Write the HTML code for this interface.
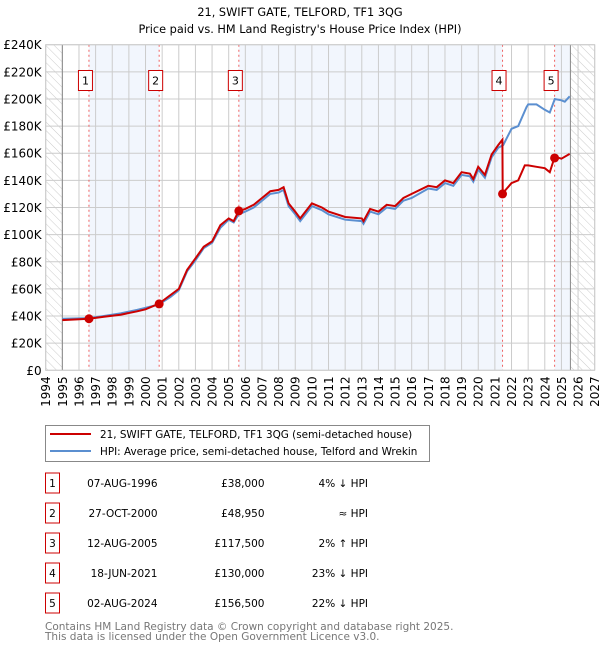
<!DOCTYPE html>
<html><head><meta charset="utf-8"><style>
body{margin:0;background:#fff;font-family:"DejaVu Sans","Liberation Sans",sans-serif;}
#wrap{position:relative;width:600px;height:650px;overflow:hidden;}
</style></head><body>
<div id="wrap">
<svg id="svg" width="600" height="650" xmlns="http://www.w3.org/2000/svg" style="position:absolute;left:0;top:0">
<defs><pattern id="hatch" width="6" height="6" patternUnits="userSpaceOnUse" patternTransform="rotate(-45)"><line x1="0" y1="0" x2="0" y2="6" stroke="#ccc" stroke-width="1"/></pattern></defs>
<text x="300" y="16" text-anchor="middle" font-size="11.3" fill="#000">21, SWIFT GATE, TELFORD, TF1 3QG</text>
<text x="300" y="33" text-anchor="middle" font-size="11.3" fill="#000">Price paid vs. HM Land Registry's House Price Index (HPI)</text>
<g id="plot"></g>
<rect x="45.5" y="425.5" width="384" height="36" fill="#fff" stroke="#888"/>
<line x1="50" y1="434" x2="91" y2="434" stroke="#cc0000" stroke-width="2"/>
<text x="100" y="438" font-size="10.4">21, SWIFT GATE, TELFORD, TF1 3QG (semi-detached house)</text>
<line x1="50" y1="451" x2="91" y2="451" stroke="#5b8fd0" stroke-width="2"/>
<text x="100" y="455" font-size="10.4">HPI: Average price, semi-detached house, Telford and Wrekin</text>
<g id="table"></g>
<text x="45" y="630" font-size="10.5" fill="#777">Contains HM Land Registry data © Crown copyright and database right 2025.</text>
<text x="45" y="640" font-size="10.5" fill="#777">This data is licensed under the Open Government Licence v3.0.</text>
</svg>
</div>
<script>
const hpiDates=[1995,1996.6,1997.5,1998.5,1999.5,2000,2000.8,2001.5,2002,2002.5,2003,2003.5,2004,2004.5,2005,2005.3,2005.6,2006,2006.5,2007,2007.5,2008,2008.3,2008.6,2009,2009.3,2010,2010.6,2011,2012,2013,2013.1,2013.5,2014,2014.5,2015,2015.5,2016,2017,2017.5,2018,2018.5,2019,2019.5,2019.7,2020,2020.4,2020.8,2021.2,2021.5,2022,2022.4,2022.9,2023,2023.5,2024,2024.3,2024.6,2025,2025.2,2025.5];
const hpiValues=[38,38.5,40,42,44.5,46,48.5,54,59,73,81,90,94,105,111,109,115,117,120,125,130,131,133,121,115,110,121,118,115,111,110,108,117,115,120,119,125,127,134,133,138,136,144,143,139,148,142,157,164,166,178,180,194,196,196,192,190,200,199,198,202];
const paidDates=[1995,1996.6,1997.5,1998.5,1999.5,2000,2000.8,2001.5,2002,2002.5,2003,2003.5,2004,2004.5,2005,2005.3,2005.6,2006,2006.5,2007,2007.5,2008,2008.3,2008.6,2009,2009.3,2010,2010.6,2011,2012,2013,2013.1,2013.5,2014,2014.5,2015,2015.5,2016,2017,2017.5,2018,2018.5,2019,2019.5,2019.7,2020,2020.4,2020.8,2021.2,2021.45,2021.47,2022,2022.4,2022.8,2023,2023.5,2024,2024.3,2024.6,2025,2025.5];
const paidValues=[37,38,39.5,41,43.5,45,49,55.5,60,74,82.5,91,95,107,112,110,117.5,119,122,127,132,133,135,123,117,112,123,120,117,113,112,110,119,117,122,121,127,130,136,135,140,138,146,145,141,150,144,159,166,170,130.5,138,140,151,151,150,149,146,157.5,156,159.5];
const saleDates=[1996.6,2000.82,2005.61,2021.46,2024.59];
const saleValues=[38,48.95,117.5,130,156.5];
const saleLabels=["1","2","3","4","5"];
const yTicks=[0,20,40,60,80,100,120,140,160,180,200,220,240];
const xTicks=[1994,1995,1996,1997,1998,1999,2000,2001,2002,2003,2004,2005,2006,2007,2008,2009,2010,2011,2012,2013,2014,2015,2016,2017,2018,2019,2020,2021,2022,2023,2024,2025,2026,2027];
const rowDates=["07-AUG-1996","27-OCT-2000","12-AUG-2005","18-JUN-2021","02-AUG-2024"];
const rowPrices=["£38,000","£48,950","£117,500","£130,000","£156,500"];
const rowHpi=["4% ↓ HPI","≈ HPI","2% ↑ HPI","23% ↓ HPI","22% ↓ HPI"];

const X0=45.7,X1=594.7,Y0=370.3,Y1=44.7,dataEnd=2025.54;
const xs=y=>X0+(y-1994)/(2027-1994)*(X1-X0);
const ys=v=>Y0-v/240*(Y0-Y1);
const NS="http://www.w3.org/2000/svg";
const plot=document.getElementById('plot');
function mk(tag,attrs,parent){const e=document.createElementNS(NS,tag);for(const k in attrs)e.setAttribute(k,attrs[k]);(parent||plot).appendChild(e);return e;}
const bands=[[saleDates[0],saleDates[1]],[saleDates[2],saleDates[3]],[saleDates[4],dataEnd]];
bands.forEach((b,i)=>{const r=mk('rect',{x:xs(b[0]),y:Y1,width:xs(b[1])-xs(b[0]),height:Y0-Y1,fill:'#eef3fc',opacity:0.75});

});
let h1=mk('rect',{x:X0,y:Y1,width:xs(1995)-X0,height:Y0-Y1,fill:'url(#hatch)'});


let h2=mk('rect',{x:xs(dataEnd),y:Y1,width:X1-xs(dataEnd),height:Y0-Y1,fill:'url(#hatch)'});


yTicks.forEach(v=>{const l=mk('line',{x1:X0,x2:X1,y1:ys(v),y2:ys(v),stroke:'#ccc','stroke-width':1});


const t=mk('text',{x:X0-4,y:ys(v)+4.5,'text-anchor':'end','font-size':12,fill:'#000'});t.textContent=v===0?'£0':'£'+v+'K';

});
xTicks.forEach(y=>{const l=mk('line',{x1:xs(y),x2:xs(y),y1:Y1,y2:Y0,stroke:'#ccc','stroke-width':1});


const t=mk('text',{x:0,y:0,'text-anchor':'end','font-size':12,fill:'#000',transform:`translate(${xs(y)+4.5},${Y0+6}) rotate(-90)`});t.textContent=y;

});
let ax=mk('line',{x1:xs(1995),x2:xs(1995),y1:Y1,y2:Y0,stroke:'#888'});


let ax2=mk('line',{x1:xs(dataEnd),x2:xs(dataEnd),y1:Y1,y2:Y0,stroke:'#888'});


saleDates.forEach((d,i)=>{const l=mk('line',{x1:xs(d),x2:xs(d),y1:Y1,y2:Y0,stroke:'#f06060','stroke-dasharray':'2,3'});

});
const path=(ds,vs)=>ds.map((d,i)=>(i?'L':'M')+xs(d).toFixed(1)+','+ys(vs[i]).toFixed(1)).join('');
let hp=mk('path',{d:path(hpiDates,hpiValues),fill:'none',stroke:'#5b8fd0','stroke-width':2});


let pp=mk('path',{d:path(paidDates,paidValues),fill:'none',stroke:'#cc0000','stroke-width':2});


saleDates.forEach((d,i)=>{const c=mk('circle',{cx:xs(d),cy:ys(saleValues[i]),r:4.5,fill:'#cc0000'});


const g=mk('g',{});


mk('rect',{x:xs(d)-10.5,y:70.5,width:14,height:20,fill:'#fff',stroke:'#cc0000'},g);
const t=mk('text',{x:xs(d)-3.5,y:84.5,'text-anchor':'middle','font-size':11},g);t.textContent=saleLabels[i];});
let bd=mk('rect',{x:X0,y:Y1,width:X1-X0,height:Y0-Y1,fill:'none',stroke:'#ccc'});


const tb=document.getElementById('table');
rowDates.forEach((d,i)=>{const cy=483+i*30;
const g=mk('g',{},tb);


mk('rect',{x:45.5,y:cy-10,width:14,height:20,fill:'#fff',stroke:'#cc0000'},g);
const n=mk('text',{x:52.5,y:cy+4,'text-anchor':'middle','font-size':10.5},g);n.textContent=saleLabels[i];
const a=mk('text',{x:157.5,y:cy+4,'text-anchor':'end','font-size':10.5},g);a.textContent=d;
const b=mk('text',{x:264.5,y:cy+4,'text-anchor':'end','font-size':10.5},g);b.textContent=rowPrices[i];
const c=mk('text',{x:368,y:cy+4,'text-anchor':'end','font-size':10.5},g);c.textContent=rowHpi[i];});
</script>
</body></html>
